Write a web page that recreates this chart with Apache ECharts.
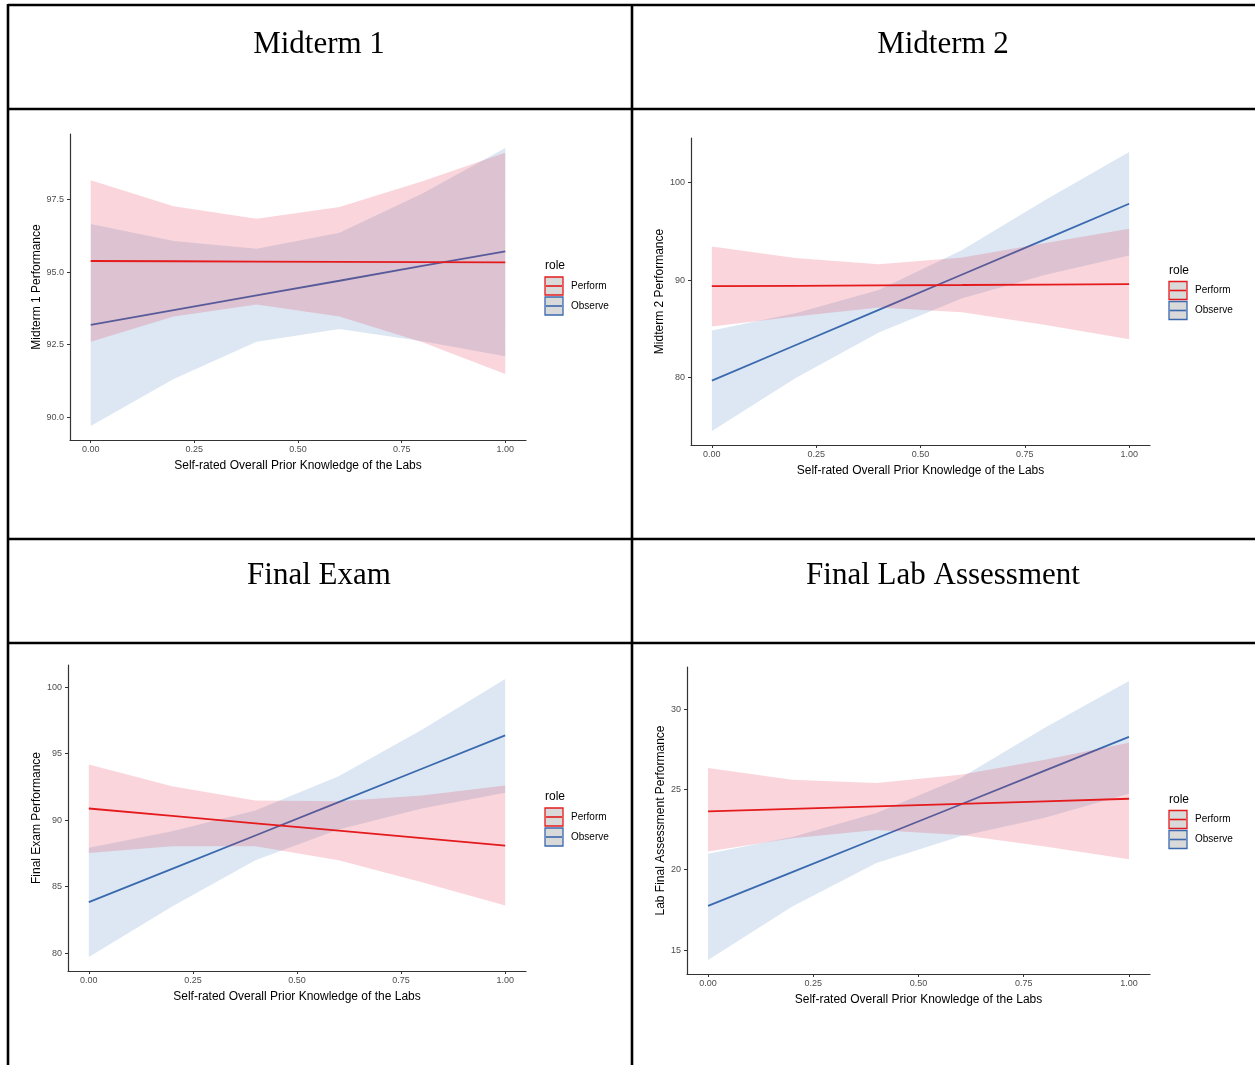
<!DOCTYPE html>
<html>
<head>
<meta charset="utf-8">
<script src="https://cdn.jsdelivr.net/npm/echarts@6/dist/echarts.min.js"></script>
<style>
html,body{margin:0;padding:0;background:#fff;}
#chart{width:1255px;height:1065px;}
</style>
</head>
<body>
<div id="chart"></div>
<script>
// ---------- data ----------
const xs = [0, 0.2, 0.4, 0.6, 0.8, 1.0];
const xTicks = [0, 0.25, 0.5, 0.75, 1];
const roles = ['Perform', 'Observe'];
const panelTitles = ['Midterm 1', 'Midterm 2', 'Final Exam', 'Final Lab Assessment'];
const yTitles = ['Midterm 1 Performance', 'Midterm 2 Performance', 'Final Exam Performance', 'Lab Final Assessment Performance'];
const xTitle = 'Self-rated Overall Prior Knowledge of the Labs';

// Midterm 1
const m1YTicks = [90, 92.5, 95, 97.5];
const m1PerfFit = [95.38, 95.37, 95.36, 95.35, 95.34, 95.33];
const m1PerfLo  = [92.60, 93.47, 93.88, 93.47, 92.58, 91.49];
const m1PerfHi  = [98.16, 97.26, 96.83, 97.24, 98.12, 99.10];
const m1ObsFit  = [93.18, 93.69, 94.20, 94.70, 95.21, 95.71];
const m1ObsLo   = [89.70, 91.32, 92.60, 93.04, 92.62, 92.10];
const m1ObsHi   = [96.65, 96.07, 95.80, 96.35, 97.70, 99.27];

// Midterm 2
const m2YTicks = [80, 90, 100];
const m2PerfFit = [89.38, 89.42, 89.46, 89.50, 89.55, 89.59];
const m2PerfLo  = [85.24, 86.27, 87.19, 86.70, 85.41, 83.94];
const m2PerfHi  = [93.46, 92.26, 91.64, 92.33, 93.80, 95.27];
const m2ObsFit  = [79.69, 83.32, 86.95, 90.58, 94.21, 97.84];
const m2ObsLo   = [74.52, 79.93, 84.62, 88.15, 90.55, 92.53];
const m2ObsHi   = [84.83, 86.60, 89.00, 93.10, 98.25, 103.15];

// Final Exam
const feYTicks = [80, 85, 90, 95, 100];
const fePerfFit = [90.88, 90.32, 89.76, 89.21, 88.65, 88.09];
const fePerfLo  = [87.54, 88.04, 88.04, 86.99, 85.33, 83.58];
const fePerfHi  = [94.19, 92.56, 91.48, 91.43, 91.86, 92.61];
const feObsFit  = [83.83, 86.34, 88.85, 91.36, 93.87, 96.38];
const feObsLo   = [79.70, 83.51, 86.99, 89.30, 90.88, 92.06];
const feObsHi   = [87.92, 89.17, 90.73, 93.30, 96.81, 100.63];

// Final Lab Assessment
const laYTicks = [15, 20, 25, 30];
const laPerfFit = [23.63, 23.79, 23.95, 24.10, 24.26, 24.42];
const laPerfLo  = [21.13, 21.96, 22.48, 22.17, 21.44, 20.66];
const laPerfHi  = [26.33, 25.60, 25.40, 25.92, 26.85, 27.90];
const laObsFit  = [17.75, 19.85, 21.96, 24.06, 26.17, 28.27];
const laObsLo   = [14.38, 17.71, 20.42, 22.08, 23.23, 24.73];
const laObsHi   = [21.00, 22.04, 23.53, 25.71, 28.83, 31.75];

// ---------- layout / style ----------
const SANS = '"Liberation Sans", Arial, sans-serif';
const SERIF = '"Liberation Serif", "Times New Roman", serif';
const RED = '#E41A1C', BLUE = '#3A69AE';
const PINK_FILL = 'rgba(225,30,60,0.18)';
const BLUE_FILL = 'rgba(70,130,190,0.19)';

const panels = [
  {grid:{left:70, top:134, width:456, height:306}, yTicks:m1YTicks, yDigits:1, yGap:27, xGap:19.5,
   perf:[m1PerfFit, m1PerfLo, m1PerfHi], obs:[m1ObsFit, m1ObsLo, m1ObsHi]},
  {grid:{left:691, top:138, width:459, height:307}, yTicks:m2YTicks, yDigits:0, yGap:22, xGap:19.5,
   perf:[m2PerfFit, m2PerfLo, m2PerfHi], obs:[m2ObsFit, m2ObsLo, m2ObsHi]},
  {grid:{left:68, top:665, width:458, height:306}, yTicks:feYTicks, yDigits:0, yGap:25, xGap:19.5,
   perf:[fePerfFit, fePerfLo, fePerfHi], obs:[feObsFit, feObsLo, feObsHi]},
  {grid:{left:687, top:667, width:463, height:307}, yTicks:laYTicks, yDigits:0, yGap:20, xGap:19.5,
   perf:[laPerfFit, laPerfLo, laPerfHi], obs:[laObsFit, laObsLo, laObsHi]}
];

// ribbon drawn as one polygon through the axis scales
function ribbonRender(fill) {
  return function (params, api) {
    if (params.dataIndexInside !== 0) return null;
    const n = params.dataInsideLength;
    const upper = [], lower = [];
    for (let k = 0; k < n; k++) {
      const x = api.value(0, k);
      lower.push(api.coord([x, api.value(1, k)]));
      upper.push(api.coord([x, api.value(2, k)]));
    }
    return {
      type:'polygon',
      shape:{points: lower.concat(upper.reverse())},
      style:{fill: fill, stroke: null}
    };
  };
}

const grids = [], xAxes = [], yAxes = [], series = [], graphics = [];

panels.forEach((p, i) => {
  grids.push(Object.assign({containLabel:false}, p.grid));
  const lo = Math.min(...p.perf[1], ...p.obs[1]);
  const hi = Math.max(...p.perf[2], ...p.obs[2]);
  const pad = (hi - lo) * 0.05;
  xAxes.push({
    type:'value', gridIndex:i, min:-0.05, max:1.05,
    name:xTitle, nameLocation:'middle', nameGap:p.xGap,
    nameTextStyle:{fontSize:12, color:'#000', fontFamily:SANS},
    axisLine:{show:true, onZero:false, lineStyle:{color:'#333', width:1.2}},
    axisTick:{show:true, length:3, customValues:xTicks, lineStyle:{color:'#333', width:1}},
    axisLabel:{customValues:xTicks, formatter:v=>Number(v).toFixed(2), fontSize:9, color:'#4d4d4d', margin:5, fontFamily:SANS},
    splitLine:{show:false}
  });
  yAxes.push({
    type:'value', gridIndex:i, min:lo - pad, max:hi + pad,
    name:yTitles[i], nameLocation:'middle', nameGap:p.yGap, nameRotate:90,
    nameTextStyle:{fontSize:12, color:'#000', fontFamily:SANS},
    axisLine:{show:true, onZero:false, lineStyle:{color:'#333', width:1.2}},
    axisTick:{show:true, length:3, customValues:p.yTicks, lineStyle:{color:'#333', width:1}},
    axisLabel:{customValues:p.yTicks, formatter:v=>Number(v).toFixed(p.yDigits), fontSize:9, color:'#4d4d4d', margin:6, fontFamily:SANS},
    splitLine:{show:false}
  });

  const addGroup = (arrs, lineColor, fill, z, nm) => {
    const [fit, l, h] = arrs;
    series.push({
      type:'custom', name:nm+' band', xAxisIndex:i, yAxisIndex:i, z:z, silent:true,
      data: xs.map((x, k) => [x, l[k], h[k]]),
      encode:{x:0, y:[1, 2]},
      renderItem: ribbonRender(fill)
    });
    series.push({
      type:'line', name:nm, xAxisIndex:i, yAxisIndex:i, z:z,
      data: xs.map((x, k) => [x, fit[k]]), symbol:'none', silent:true,
      lineStyle:{width:1.8, color:lineColor}
    });
  };
  addGroup(p.obs, BLUE, BLUE_FILL, 2, roles[1]);
  addGroup(p.perf, RED, PINK_FILL, 3, roles[0]);

  // legend
  const R = p.grid.left + p.grid.width + 19;
  const C = p.grid.top + p.grid.height / 2;
  graphics.push({type:'text', x:R, y:C-21, style:{text:'role', font:'12px '+SANS, fill:'#000', align:'left', verticalAlign:'middle', textAlign:'left', textVerticalAlign:'middle'}});
  [[roles[0], RED, C-1], [roles[1], BLUE, C+19]].forEach(([lab, col, cy]) => {
    graphics.push({type:'rect', shape:{x:R, y:cy-9, width:18, height:18}, style:{fill:'#d9d9d9', stroke:col, lineWidth:1.3}});
    graphics.push({type:'line', shape:{x1:R+1, y1:cy, x2:R+17, y2:cy}, style:{stroke:col, lineWidth:1.6}});
    graphics.push({type:'text', x:R+26, y:cy, style:{text:lab, font:'10px '+SANS, fill:'#000', align:'left', verticalAlign:'middle', textAlign:'left', textVerticalAlign:'middle'}});
  });
});

// table borders
const BW = 2.6;
[[8, 5, 1265, 5], [8, 109, 1265, 109], [8, 539, 1265, 539], [8, 643, 1265, 643],
 [8, 4, 8, 1075], [632, 5, 632, 1075]].forEach(([x1, y1, x2, y2]) => {
  graphics.push({type:'line', shape:{x1, y1, x2, y2}, style:{stroke:'#000', lineWidth:BW}, z:10});
});
// panel titles
[[319, 45], [943, 45], [319, 576], [943, 576]].forEach(([x, y], i) => {
  graphics.push({type:'text', x, y, style:{text:panelTitles[i], font:'31px '+SERIF, fill:'#000', align:'center', verticalAlign:'middle', textAlign:'center', textVerticalAlign:'middle'}});
});

const chart = echarts.init(document.getElementById('chart'), null, {renderer:'canvas'});
chart.setOption({
  animation:false,
  backgroundColor:'#fff',
  grid:grids, xAxis:xAxes, yAxis:yAxes, series:series,
  graphic:graphics
});
</script>
</body>
</html>
